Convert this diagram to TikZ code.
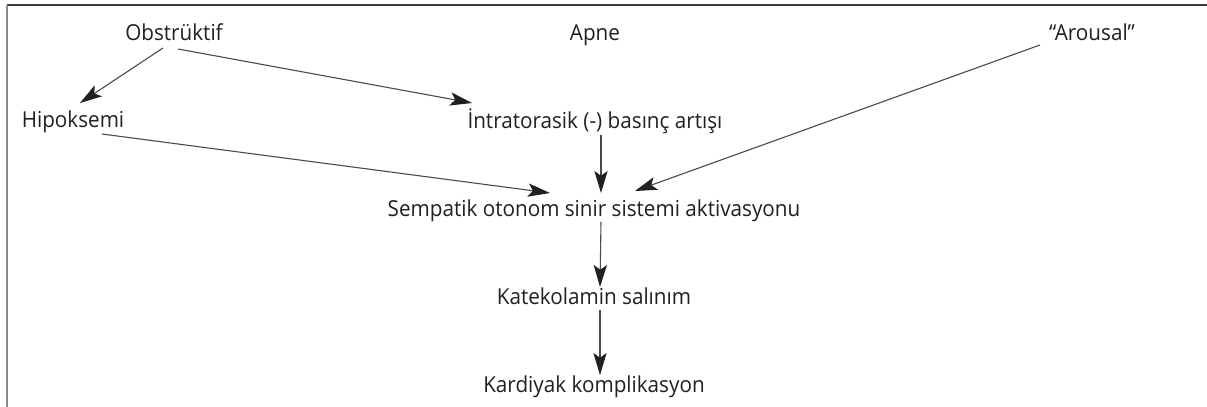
\documentclass[tikz,border=0pt]{standalone}
\usepackage{fontspec}
\setmainfont[FakeStretch=0.94]{Open Sans}
\usetikzlibrary{arrows.meta,positioning}
\definecolor{Ink}{HTML}{231F20}
\definecolor{Wire}{HTML}{4A4A4A}
\definecolor{Frame}{HTML}{8A8A8A}
\definecolor{FrameTop}{HTML}{3A3A3A}
\tikzset{
  term/.style={inner sep=0pt,anchor=base,text=Ink,font=\fontsize{11pt}{13pt}\selectfont},
  flow/.style={-{Stealth[length=11pt,width=6.6pt,inset=2.4pt,color=Ink]},draw=Wire,line width=.55pt},
  edgeline/.style={draw=Frame,line width=1pt},
  topline/.style={draw=FrameTop,line width=.75pt}
}
\begin{document}
\begin{tikzpicture}[x=.5pt,y=-.5pt]
        \useasboundingbox (0,0) rectangle (1207,407);
        \draw[topline] (7,5) -- (1207,5);
        \draw[edgeline] (7,5) -- (7,407);
        % top row
        \node[term] (obstr) at (174,40) {Obstrüktif};
        \node[term] (apne) at (595,40) {Apne};
        \node[term] (arousal) at (1092,40) {“Arousal”};
        \node[term] (hipok) at (73,127) {Hipoksemi};
        \node[term] (intra) at (595,128) {İntratorasik (-) basınç artışı};
        % main column
        \node[term] (sempatik) at (594,216) {Sempatik otonom sinir sistemi aktivasyonu};
        \node[below=44pt of sempatik.base,term] (katekol) {Katekolamin salınım};
        \node[below=44pt of katekol.base,term] (kardiyak) {Kardiyak komplikasyon};
        \draw[flow] ([shift={(-11,8)}]obstr.base) -- ([shift={(7,-24)}]hipok.base);
        \draw[flow] ([shift={(4,9)}]obstr.base) -- ([shift={(5,-25)}]intra.base west);
        \draw[flow] ([shift={(29,7)}]hipok.base) -- ([shift={(-44,-23)}]sempatik.base);
        \draw[flow] ([shift={(6,7)}]intra.base) -- ([shift={(7,-23)}]sempatik.base);
        \draw[flow] ([shift={(-52,5)}]arousal.base) -- ([shift={(41,-25)}]sempatik.base);
        \draw[flow] ([shift={(7,6)}]sempatik.base) -- ([shift={(6,-17)}]katekol.base);
        \draw[flow] ([shift={(6,6)}]katekol.base) -- ([shift={(6,-17)}]kardiyak.base);
      \end{tikzpicture}
\end{document}
